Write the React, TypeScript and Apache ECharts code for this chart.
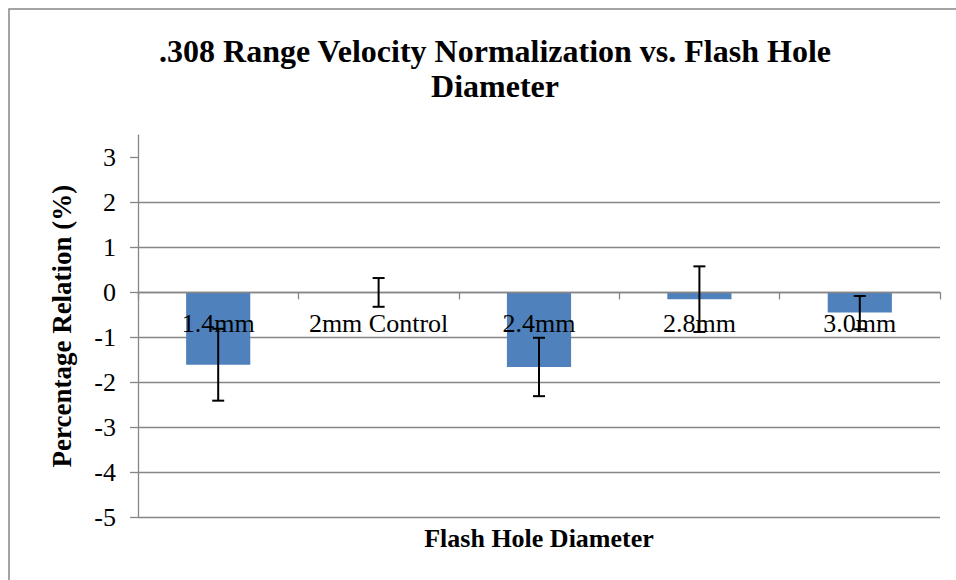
import React, { useEffect, useRef } from "react";
import * as echarts from "echarts";

const categories = ["1.4mm", "2mm Control", "2.4mm", "2.8mm", "3.0mm"];
const values = [-1.61, 0, -1.66, -0.15, -0.45];
const errors = [0.8, 0.32, 0.65, 0.73, 0.37];
const yTicks = [-5, -4, -3, -2, -1, 0, 1, 2, 3];

const FONT = "Liberation Serif, DejaVu Serif, serif";
const GREY = "#868686";

export default function App() {
  const ref = useRef<HTMLDivElement>(null);
  useEffect(() => {
    if (!ref.current) return;
    const chart = echarts.init(ref.current, null, { renderer: "svg" });
    const errData = values.map((v, i) => [i, v, errors[i]]);
    chart.setOption({
      animation: false,
      backgroundColor: "#ffffff",
      title: {
        text: ".308 Range Velocity Normalization vs. Flash Hole\nDiameter",
        left: 490,
        top: 28,
        textAlign: "center",
        textStyle: {
          fontFamily: FONT,
          fontWeight: "bold",
          fontSize: 32,
          lineHeight: 35,
          color: "#000",
        },
      },
      graphic: [
        {
          type: "rect",
          shape: { x: 9, y: 9, width: 1000, height: 1000 },
          style: { fill: "none", stroke: GREY, lineWidth: 1.5 },
          silent: true,
        },
      ],
      grid: { left: 138, right: 16, top: 135.2, bottom: 63, containLabel: false },
      xAxis: [
        {
          type: "category",
          data: categories,
          z: 3,
          axisLine: { onZero: true, lineStyle: { color: GREY, width: 1.3 } },
          axisTick: { show: true, length: 7, lineStyle: { color: GREY, width: 1.3 } },
          axisLabel: { show: false },
          splitLine: { show: false },
        },
        {
          type: "category",
          data: categories,
          position: "bottom",
          offset: -224.3,
          z: 3,
          axisLine: { show: false, onZero: false },
          axisTick: { show: false },
          axisLabel: {
            margin: 18,
            fontFamily: FONT,
            fontSize: 26,
            color: "#000",
            interval: 0,
          },
        },
        {
          type: "category",
          data: categories,
          position: "bottom",
          axisLine: { show: false, onZero: false },
          axisTick: { show: false },
          axisLabel: { show: false },
          name: "Flash Hole Diameter",
          nameLocation: "middle",
          nameGap: 8,
          nameTextStyle: {
            fontFamily: FONT,
            fontWeight: "bold",
            fontSize: 26,
            color: "#000",
          },
        },
      ],
      yAxis: {
        type: "value",
        min: -5,
        max: 3.5,
        interval: 1,
        name: "Percentage Relation (%)",
        nameLocation: "middle",
        nameRotate: 90,
        nameGap: 63,
        nameTextStyle: {
          fontFamily: FONT,
          fontWeight: "bold",
          fontSize: 27,
          color: "#000",
        },
        axisLine: { show: true, lineStyle: { color: GREY, width: 1.3 } },
        axisTick: {
          show: true,
          length: 8,
          customValues: yTicks,
          lineStyle: { color: GREY, width: 1.3 },
        },
        axisLabel: {
          margin: 22,
          customValues: yTicks,
          fontFamily: FONT,
          fontSize: 26,
          color: "#000",
        },
        splitLine: {
          show: true,
          showMaxLine: false,
          lineStyle: { color: GREY, width: 1.3 },
        },
      },
      series: [
        {
          type: "bar",
          data: values,
          barWidth: "40%",
          itemStyle: { color: "#4F81BD" },
          z: 2,
        },
        {
          type: "custom",
          z: 10,
          data: errData,
          renderItem: (params: any, api: any) => {
            const i = api.value(0);
            const v = api.value(1);
            const e = api.value(2);
            const top = api.coord([i, v + e]);
            const bot = api.coord([i, v - e]);
            const half = 6;
            const style = { stroke: "#000", lineWidth: 2 };
            return {
              type: "group",
              children: [
                { type: "line", shape: { x1: top[0], y1: top[1], x2: bot[0], y2: bot[1] }, style },
                { type: "line", shape: { x1: top[0] - half, y1: top[1], x2: top[0] + half, y2: top[1] }, style },
                { type: "line", shape: { x1: bot[0] - half, y1: bot[1], x2: bot[0] + half, y2: bot[1] }, style },
              ],
            };
          },
        },
      ],
    });
    return () => chart.dispose();
  }, []);
  return (
    <div
      ref={ref}
      style={{ position: "fixed", left: 0, top: 0, width: 956, height: 580 }}
    />
  );
}
